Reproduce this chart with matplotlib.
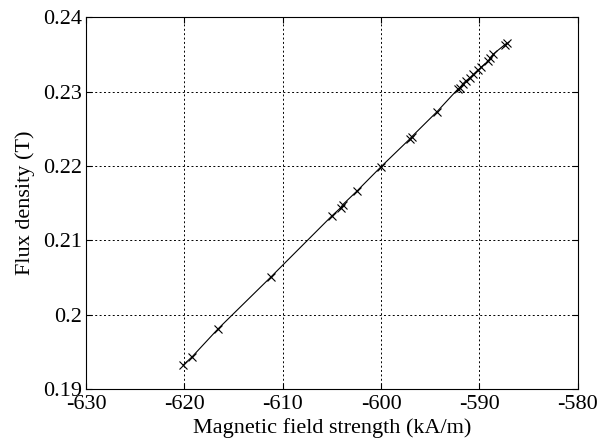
import numpy as np
import matplotlib
matplotlib.use('Agg')
import matplotlib.pyplot as plt

plt.rcParams['font.family'] = ['Liberation Serif', 'DejaVu Serif']
plt.rcParams['axes.unicode_minus'] = False

# measured points: field strength (kA/m) vs flux density (T)
H = [-620.1, -619.2, -616.6, -611.2, -605.0, -604.1, -603.9, -602.4,
     -600.0, -597.1, -596.9, -594.3, -592.2, -592.0, -591.7, -591.4,
     -591.0, -590.6, -590.1, -589.8, -589.1, -588.9, -588.6, -587.4,
     -587.2]
B = [0.1933, 0.1944, 0.1981, 0.2051, 0.2133, 0.2144, 0.2148, 0.2167,
     0.2199, 0.2236, 0.2239, 0.2273, 0.2303, 0.2305, 0.2310, 0.2314,
     0.2318, 0.2323, 0.2329, 0.2333, 0.2341, 0.2345, 0.2350, 0.2363,
     0.2365]

fig = plt.figure(figsize=(5.97, 4.43), dpi=100)
ax = fig.add_axes([0.144, 0.1208, 0.8237, 0.8408])

ax.plot(H, B, '-', color='k', lw=0.8)
ax.plot(H, B, 'x', color='k', ms=6, mew=0.8)

ax.set_xlim(-630, -580)
ax.set_ylim(0.19, 0.24)
ax.set_xticks([-630, -620, -610, -600, -590, -580])
ax.set_yticks([0.19, 0.2, 0.21, 0.22, 0.23, 0.24])
ax.set_yticklabels(['0.19', '0.2', '0.21', '0.22', '0.23', '0.24'])

ax.grid(True, linestyle=(0, (2, 2.5)), color='k', lw=0.7)
ax.tick_params(direction='in', top=True, right=True, labelsize=16, length=4, width=0.8)
ax.tick_params(axis='y', pad=2.5)
ax.tick_params(axis='x', pad=4)
for s in ax.spines.values():
    s.set_linewidth(0.8)

ax.set_xlabel('Magnetic field strength (kA/m)', fontsize=16, labelpad=3)
ax.set_ylabel('Flux density (T)', fontsize=16, labelpad=6)

fig.savefig('out.png', dpi=100)
